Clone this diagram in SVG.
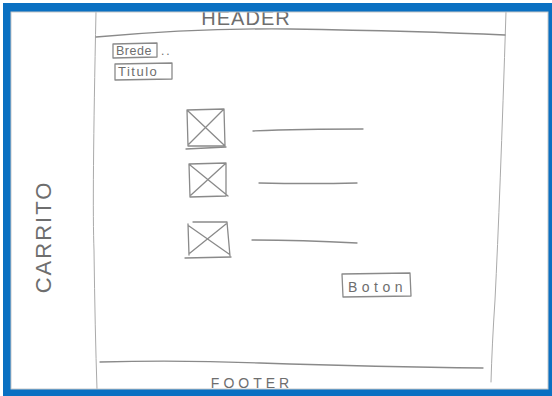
<svg xmlns="http://www.w3.org/2000/svg" width="552" height="396" viewBox="0 0 552 396">
  <style>
    .ln{fill:none;stroke:#8a8a8a;stroke-width:1.3;stroke-linecap:round;stroke-linejoin:round}
    .lt{fill:none;stroke:#aaaaaa;stroke-width:1;stroke-linecap:round}
    .tx{font-family:"Liberation Sans",Arial,sans-serif;fill:#6e6e6e}
  </style>
  <rect x="0" y="0" width="552" height="396" fill="#ffffff"/>

  <g id="page-frame">
    <path class="lt" d="M96,12 Q92,200 94,250 Q95,330 97,389"/>
    <path class="lt" d="M506,12 Q500,200 495,300 Q492,345 491,382"/>
  </g>

  <g id="header">
    <path class="ln" d="M96,37 Q200,28 290,29 Q420,31 505,35"/>
    <text class="tx" x="246" y="25" font-size="20" text-anchor="middle" letter-spacing="1">HEADER</text>
  </g>

  <g id="breadcrumb">
    <path class="ln" d="M113,44 L157,43 L157,57 L113,58 Z"/>
    <text class="tx" x="116" y="55" font-size="12.5" letter-spacing="0.5">Brede</text>
    <text class="tx" x="161" y="55" font-size="12" letter-spacing="2">..</text>
  </g>

  <g id="titulo">
    <path class="ln" d="M115,64 L172,63 L172,79 L115,80 Z"/>
    <text class="tx" x="118" y="76" font-size="13" letter-spacing="1.5">Titulo</text>
  </g>

  <g id="item-1">
    <path class="ln" d="M187,110 L224,109 L225,146 L188,146 Z M188,111 L224,145 M223,110 L189,144"/>
    <path class="ln" d="M186,149 L226,147"/>
    <path class="ln" d="M253,131 Q300,129 363,129"/>
  </g>

  <g id="item-2">
    <path class="ln" d="M189,164 L226,163 L226,196 L190,197 Z M190,165 L228,196 M225,164 L191,195"/>
    <path class="ln" d="M259,183 Q310,184 357,183"/>
  </g>

  <g id="item-3">
    <path class="ln" d="M193,222 L227,222 L230,256 M188,224 L189,255 M189,226 L229,254 M226,224 L190,253"/>
    <path class="ln" d="M185,258 L231,257"/>
    <path class="ln" d="M252,240 Q300,240 357,243"/>
  </g>

  <g id="boton">
    <path class="ln" d="M342,274 L410,273 L411,296 L343,297 Z"/>
    <text class="tx" x="348" y="292" font-size="14" letter-spacing="4.5">Boton</text>
  </g>

  <g id="carrito">
    <text class="tx" transform="translate(51,237) rotate(-90)" x="0" y="0" font-size="22" text-anchor="middle" letter-spacing="2">CARRITO</text>
  </g>

  <g id="footer">
    <path class="ln" d="M100,362 Q180,360 260,363 Q380,367 483,368"/>
    <text class="tx" x="252" y="387.5" font-size="14" text-anchor="middle" letter-spacing="4">FOOTER</text>
  </g>

  <g id="blue-border">
    <path fill="#0a70c2" fill-rule="evenodd" d="M3,3 H552 V396 H3 Z M11,12 V389 H548 V12 Z"/>
    <rect x="11" y="12" width="537" height="377" fill="none" stroke="#c8c8c8" stroke-width="1"/>
  </g>
</svg>
